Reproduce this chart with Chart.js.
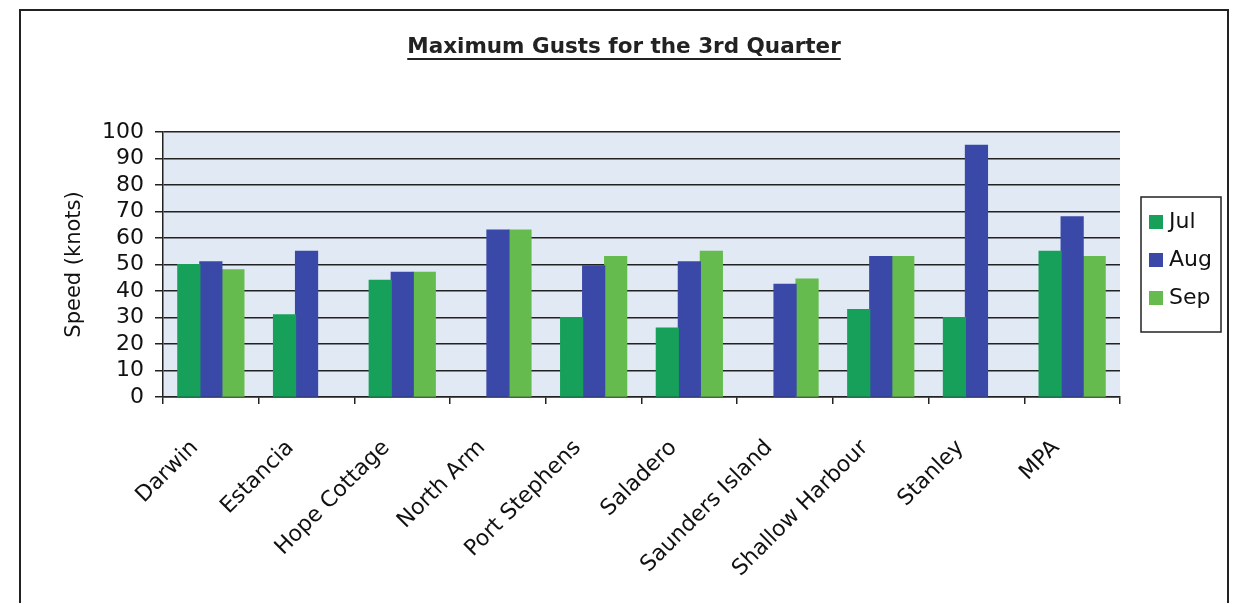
<!DOCTYPE html>
<html>
<head>
<meta charset="utf-8">
<title>Maximum Gusts for the 3rd Quarter</title>
<script src="https://cdn.jsdelivr.net/npm/chart.js@4.4.1/dist/chart.umd.min.js"></script>
<style>
    html, body { margin: 0; padding: 0; background: #fff; }
    #gustChart { display: block; }
</style>
</head>
<body>
<canvas id="gustChart" width="1234" height="603"></canvas>
<script>
// Station list and the max gust (knots) per month
const stations = ["Darwin", "Estancia", "Hope Cottage", "North Arm", "Port Stephens", "Saladero", "Saunders Island", "Shallow Harbour", "Stanley", "MPA"];
const julGusts = [50, 31, 44, null, 30, 26, null, 33, 30, 55];
const augGusts = [51, 55, 47, 63, 49.5, 51, 42.5, 53, 95, 68];
const sepGusts = [48, null, 47, 63, 53, 55, 44.5, 53, null, 53];
const monthNames = ["Jul", "Aug", "Sep"];
const monthColors = ["#17a05a", "#3a48a8", "#66bb4e"];

const chartTitle = "Maximum Gusts for the 3rd Quarter";
const yTitle = "Speed (knots)";

const FONT = "'DejaVu Sans', 'Liberation Sans', sans-serif";
Chart.defaults.font.family = FONT;
Chart.defaults.color = "#111";

// frame, plot background, underlined title and boxed legend
const decorations = {
    id: "decorations",
    beforeDraw(chart) {
        const ctx = chart.ctx;
        const a = chart.chartArea;
        ctx.save();
        ctx.fillStyle = "#e1e9f5";
        ctx.fillRect(a.left, a.top, a.right - a.left, a.bottom - a.top);
        ctx.strokeStyle = "#222";
        ctx.lineWidth = 2;
        ctx.strokeRect(20, 10, chart.width - 26, chart.height + 20);
        ctx.restore();
    },
    afterDraw(chart) {
        const ctx = chart.ctx;
        const a = chart.chartArea;
        ctx.save();

        // title
        ctx.font = "bold 21.5px " + FONT;
        ctx.fillStyle = "#222";
        ctx.textAlign = "center";
        ctx.textBaseline = "alphabetic";
        const tx = 624, ty = 53;
        ctx.fillText(chartTitle, tx, ty);
        const tw = ctx.measureText(chartTitle).width;
        ctx.fillRect(tx - tw / 2, ty + 5, tw, 2);

        // legend
        const lx = a.right + 21, ly = a.top + 65, lw = 80, lh = 135;
        ctx.lineWidth = 1.5;
        ctx.strokeStyle = "#222";
        ctx.strokeRect(lx, ly, lw, lh);
        ctx.font = "22px " + FONT;
        ctx.textAlign = "left";
        ctx.textBaseline = "middle";
        chart.data.datasets.forEach((ds, i) => {
            const cy = ly + 25 + i * 38;
            ctx.fillStyle = ds.backgroundColor;
            ctx.fillRect(lx + 8, cy - 7, 14, 14);
            ctx.fillStyle = "#111";
            ctx.fillText(ds.label, lx + 28, cy);
        });
        ctx.restore();
    }
};

const ctx = document.getElementById("gustChart").getContext("2d");
new Chart(ctx, {
    type: "bar",
    data: {
        labels: stations,
        datasets: [julGusts, augGusts, sepGusts].map((vals, i) => ({
            label: monthNames[i],
            data: vals,
            backgroundColor: monthColors[i],
            borderWidth: 0,
            inflateAmount: 0.6,
            categoryPercentage: 0.69,
            barPercentage: 1.0
        }))
    },
    options: {
        responsive: false,
        animation: false,
        layout: { padding: { left: 20, right: 114, top: 132, bottom: 0 } },
        plugins: {
            legend: { display: false },
            title: { display: false },
            tooltip: { enabled: false }
        },
        scales: {
            x: {
                grid: { offset: true, drawOnChartArea: false, tickLength: 7, color: "#222", lineWidth: 1.5 },
                border: { color: "#222", width: 1.5 },
                ticks: {
                    autoSkip: false,
                    minRotation: 45,
                    maxRotation: 45,
                    padding: 31,
                    labelOffset: -16,
                    font: { size: 22 },
                    color: "#111"
                },
                afterFit(scale) { scale.height = 206; }
            },
            y: {
                min: 0,
                max: 100,
                ticks: { stepSize: 10, autoSkip: false, padding: 11, font: { size: 22 }, color: "#111" },
                grid: { color: "#222", lineWidth: 1.5, tickLength: 8 },
                border: { color: "#222", width: 1.5 },
                title: {
                    display: true,
                    text: yTitle,
                    font: { size: 21 },
                    color: "#111",
                    padding: { top: 42, bottom: 0 }
                },
                afterFit(scale) { scale.width = 143; }
            }
        }
    },
    plugins: [decorations]
});
</script>
</body>
</html>
